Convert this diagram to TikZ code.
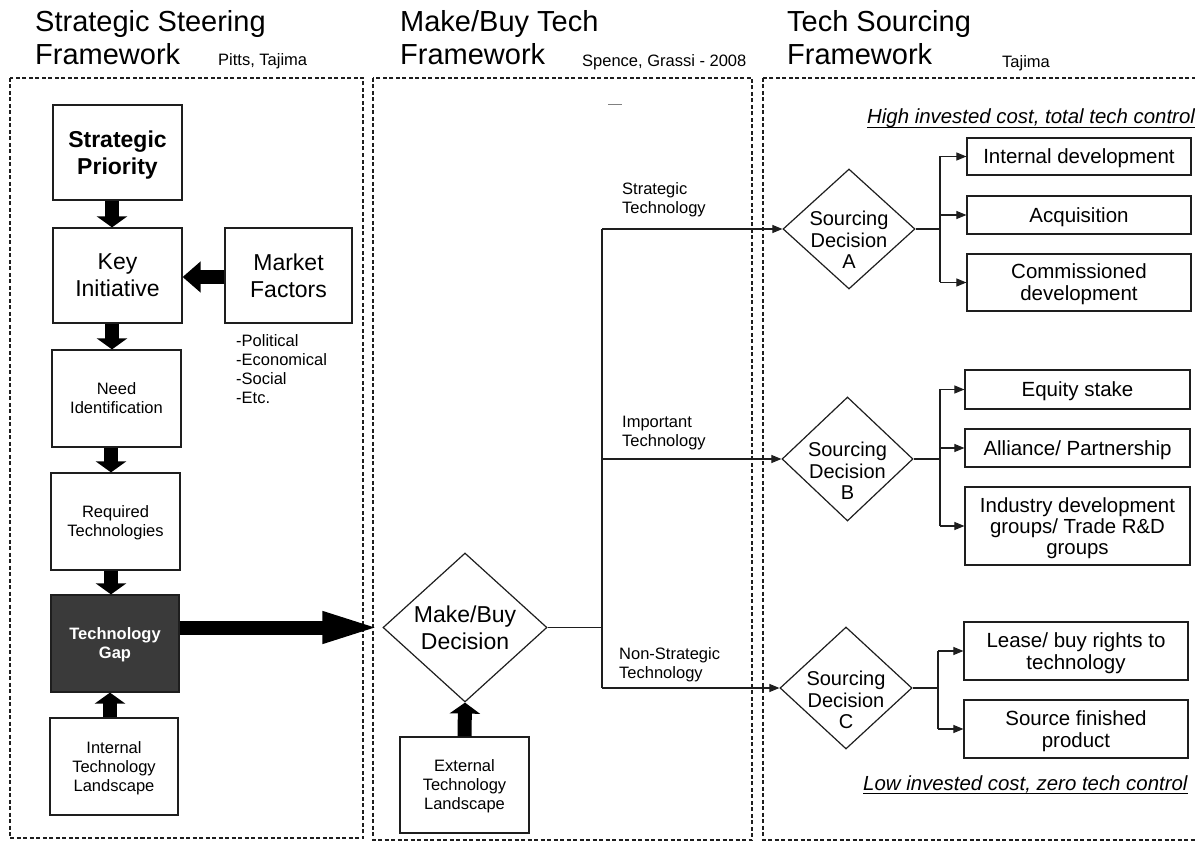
\documentclass[tikz,border=0pt]{standalone}
\usepackage{fontspec}
\setmainfont{Liberation Sans}
\usetikzlibrary{arrows.meta,shapes.geometric,calc}

\newcommand{\fsz}[2]{\fontsize{#1}{#2}\selectfont}
\definecolor{gapfill}{RGB}{58,58,58}
\definecolor{edge}{RGB}{30,30,30}

\begin{document}
\begin{tikzpicture}[x=1pt,y=-1pt,
  panel/.style={draw=edge, line width=1.3pt, dash pattern=on 4pt off 2.5pt},
  ttl/.style={inner sep=0pt, anchor=base west, font=\fsz{29}{34}},
  cite/.style={inner sep=0pt, anchor=base west, font=\fsz{16.5}{19}},
  box/.style={draw=edge, line width=1.2pt, align=center, inner sep=1pt, text depth=0pt},
  bigtext/.style={font=\fsz{23}{27}},
  smalltext/.style={font=\fsz{16.5}{19}},
  rtext/.style={font=\fsz{20.5}{22}},
  dia/.style={draw=edge, line width=1.2pt, diamond, inner sep=0pt, align=center},
  lbl/.style={inner sep=0pt, align=left, font=\fsz{16.5}{18.5}},
  ital/.style={inner sep=0pt, anchor=base west, font=\fsz{20.4}{24}\itshape},
  fat/.style={draw=black, line width=14pt, -{Triangle[width=30pt,length=11pt]}},
  conn/.style={draw=edge, line width=1.1pt},
  thin/.style={draw=edge, line width=1.1pt, -{Triangle[width=8pt,length=10pt]}}
]
\useasboundingbox (0,0) rectangle (1195,842);

% column frames
\draw[panel] (10,78) rectangle (363,838);
\draw[panel] (373,78) rectangle (752,840);
\draw[panel] (763,78) rectangle (1215,840);

% headings
\node[ttl] (h1a) at (35,32) {Strategic Steering};
\node[ttl] (h1b) at (35,65) {Framework};
\node[cite] (c1) at (218,66) {Pitts, Tajima};
\node[ttl] (h2a) at (400,32) {Make/Buy Tech};
\node[ttl] (h2b) at (400,65) {Framework};
\node[cite] (c2) at (582,67) {Spence, Grassi - 2008};
\node[ttl] (h3a) at (787,32) {Tech Sourcing};
\node[ttl] (h3b) at (787,65) {Framework};
\node[cite] (c3) at (1002,68) {Tajima};

% strategic steering column
\node[box, bigtext, minimum width=129pt, minimum height=95pt] (sp) at (117.5,152.5) {\bfseries Strategic\\\bfseries Priority};
\node[box, bigtext, minimum width=129pt, minimum height=95pt] (ki) at (117.5,275.5) {Key\\Initiative};
\node[box, bigtext, minimum width=127pt, minimum height=95pt] (mf) at (288.5,275.5) {Market\\Factors};
\node[lbl, anchor=north west, font=\fsz{16.5}{19}] (mfl) at (236,334) {-Political\\-Economical\\-Social\\-Etc.};
\node[box, smalltext, minimum width=129pt, minimum height=97pt] (ni) at (116.5,398.5) {Need\\Identification};
\node[box, smalltext, minimum width=129pt, minimum height=97pt] (rt) at (115.5,521.5) {Required\\Technologies};
\node[box, smalltext, fill=gapfill, text=white, minimum width=128pt, minimum height=97pt] (tg) at (115,643.5) {\bfseries Technology\\\bfseries Gap};
\node[box, smalltext, minimum width=128pt, minimum height=97pt] (itl) at (114,766.5) {Internal\\Technology\\Landscape};

\draw[fat] (sp.south -| 112,0) -- (ki.north -| 112,0);
\draw[fat] (ki.south -| 112,0) -- (ni.north -| 112,0);
\draw[fat] (ni.south -| 111,0) -- (rt.north -| 111,0);
\draw[fat] (rt.south -| 111,0) -- (tg.north -| 111,0);
\draw[fat] (itl.north -| 110,0) -- (tg.south -| 110,0);
\draw[fat, -{Triangle[width=30pt,length=18pt]}] (mf.west |- 0,277) -- (ki.east |- 0,277);

% make / buy column
\node[dia, bigtext, minimum width=164pt, minimum height=149pt] (mb) at (465,627.5) {Make/Buy\\Decision};
\node[box, smalltext, minimum width=129pt, minimum height=96pt] (etl) at (464.5,785) {External\\Technology\\Landscape};
\draw[fat] (etl.north) -- (mb.south);
\draw[draw=black, line width=14pt, -{Triangle[width=28pt,length=60pt]}] (tg.east |- mb.west) -- (mb.west);
\draw[gray, line width=0.8pt] (608,104) -- (622,104);

% sourcing decisions
\node[dia, minimum width=132pt, minimum height=120pt] (sA) at (849,229) {};
\node[dia, minimum width=131pt, minimum height=124pt] (sB) at (847.5,459) {};
\node[dia, minimum width=132pt, minimum height=122pt] (sC) at (846,688) {};
\node[align=center, inner sep=0pt, font=\fsz{20}{21.5}] (tA) at ([yshift=-11pt]sA.center) {Sourcing\\Decision\\A};
\node[align=center, inner sep=0pt, font=\fsz{20}{21.5}] (tB) at ([yshift=-12pt]sB.center) {Sourcing\\Decision\\B};
\node[align=center, inner sep=0pt, font=\fsz{20}{21.5}] (tC) at ([yshift=-12pt]sC.center) {Sourcing\\Decision\\C};

\coordinate (j) at (602,627.5);
\draw[conn] (mb.east) -- (j);
\draw[conn] (j |- sA.west) -- (j |- sC.west);
\draw[thin] (j |- sA.west) -- (sA.west);
\draw[thin] (j |- sB.west) -- (sB.west);
\draw[thin] (j |- sC.west) -- (sC.west);
\node[lbl, anchor=south west] (lS) at (622,217) {Strategic\\Technology};
\node[lbl, anchor=south west] (lI) at (622,450) {Important\\Technology};
\node[lbl, anchor=south west] (lN) at (619,682) {Non-Strategic\\Technology};

% sourcing options
\node[box, rtext, minimum width=224pt, minimum height=37pt] (oA1) at (1079,156.5) {Internal development};
\node[box, rtext, minimum width=224pt, minimum height=38pt] (oA2) at (1079,215) {Acquisition};
\node[box, rtext, minimum width=224pt, minimum height=57pt] (oA3) at (1079,282.5) {Commissioned\\development};
\node[box, rtext, minimum width=225pt, minimum height=39pt] (oB1) at (1077.5,389.5) {Equity stake};
\node[box, rtext, minimum width=225pt, minimum height=38pt] (oB2) at (1077.5,448) {Alliance/ Partnership};
\node[box, rtext, font=\fsz{20.4}{20.8}, minimum width=225pt, minimum height=78pt] (oB3) at (1077.5,526) {Industry development\\groups/ Trade R\&D\\groups};
\node[box, rtext, minimum width=224pt, minimum height=58pt] (oC1) at (1076,651) {Lease/ buy rights to\\technology};
\node[box, rtext, minimum width=224pt, minimum height=58pt] (oC2) at (1076,729) {Source finished\\product};

\coordinate (bA) at (940,229);
\draw[conn] (sA.east) -- (bA);
\draw[conn] (bA |- oA1.west) -- (bA |- oA3.west);
\draw[thin] (bA |- oA1.west) -- (oA1.west);
\draw[thin] (bA |- oA2.west) -- (oA2.west);
\draw[thin] (bA |- oA3.west) -- (oA3.west);

\coordinate (bB) at (940,459);
\draw[conn] (sB.east) -- (bB);
\draw[conn] (bB |- oB1.west) -- (bB |- oB3.west);
\draw[thin] (bB |- oB1.west) -- (oB1.west);
\draw[thin] (bB |- oB2.west) -- (oB2.west);
\draw[thin] (bB |- oB3.west) -- (oB3.west);

\coordinate (bC) at (938,688);
\draw[conn] (sC.east) -- (bC);
\draw[conn] (bC |- oC1.west) -- (bC |- oC2.west);
\draw[thin] (bC |- oC1.west) -- (oC1.west);
\draw[thin] (bC |- oC2.west) -- (oC2.west);

% cost / control notes
\node[ital] (hi) at (867,124) {High invested cost, total tech control};
\draw[line width=1pt] ([yshift=-3.5pt]hi.base west) -- ([yshift=-3.5pt]hi.base east);
\node[ital] (lo) at (863,790) {Low invested cost, zero tech control};
\draw[line width=1pt] ([yshift=-3.5pt]lo.base west) -- ([yshift=-3.5pt]lo.base east);
\end{tikzpicture}
\end{document}
